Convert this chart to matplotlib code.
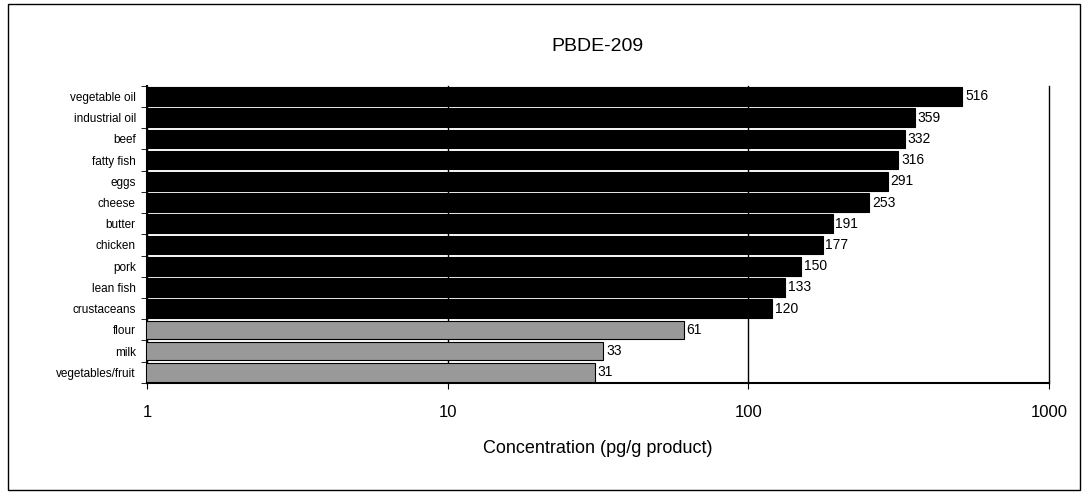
import matplotlib
matplotlib.use("Agg")
import matplotlib.pyplot as plt
from matplotlib.patches import Rectangle

plt.rcParams['font.family'] = ['Liberation Sans', 'DejaVu Sans']

categories = ["vegetable oil", "industrial oil", "beef", "fatty fish", "eggs", "cheese",
              "butter", "chicken", "pork", "lean fish", "crustaceans", "flour", "milk",
              "vegetables/fruit"]
values = [516, 359, 332, 316, 291, 253, 191, 177, 150, 133, 120, 61, 33, 31]
groups = ["animal"] * 11 + ["plant"] * 3
group_colors = {"animal": "black", "plant": "#999999"}

fig = plt.figure(figsize=(10.88, 4.96), dpi=100)
ax = fig.add_axes([0.135, 0.228, 0.829, 0.599])

ypos = list(range(len(categories)))
colors = [group_colors[g] for g in groups]
ax.barh(ypos, values, height=0.88, color=colors, edgecolor="black", linewidth=0.8,
        zorder=3)
for y, v in zip(ypos, values):
    ax.text(v * 1.02, y, str(v), va="center", ha="left", fontsize=10, zorder=4)

ax.set_xscale("log")
ax.set_xlim(1, 1000)
ax.set_ylim(len(categories) - 0.5, -0.5)

# category labels at centres, tick marks at the boundaries (Excel style)
ax.set_yticks(ypos)
ax.set_yticklabels(categories, fontsize=8.5)
ax.set_yticks([p - 0.5 for p in ypos] + [len(categories) - 0.5], minor=True)
ax.tick_params(axis="y", which="major", length=0, pad=8)
ax.tick_params(axis="y", which="minor", length=4)

ax.set_xticks([1, 10, 100, 1000])
ax.set_xticklabels(["1", "10", "100", "1000"], fontsize=12)
ax.set_xticks([], minor=True)
ax.tick_params(axis="x", length=4, pad=12)

ax.grid(axis="x", which="major", color="black", linewidth=1, zorder=0)
for gl in ax.get_xgridlines():
    gl.set_clip_on(False)
ax.spines["top"].set_visible(False)
ax.spines["right"].set_visible(False)
ax.spines["left"].set_linewidth(1.5)
ax.spines["bottom"].set_linewidth(1.5)
ax.set_xlabel("Concentration (pg/g product)", fontsize=13, labelpad=14)
ax.set_title("PBDE-209", fontsize=14, pad=25)

fig.patches.append(Rectangle((0.007, 0.012), 0.986, 0.98, transform=fig.transFigure,
                             fill=False, edgecolor="black", linewidth=1))

fig.savefig("out.png", dpi=100)
